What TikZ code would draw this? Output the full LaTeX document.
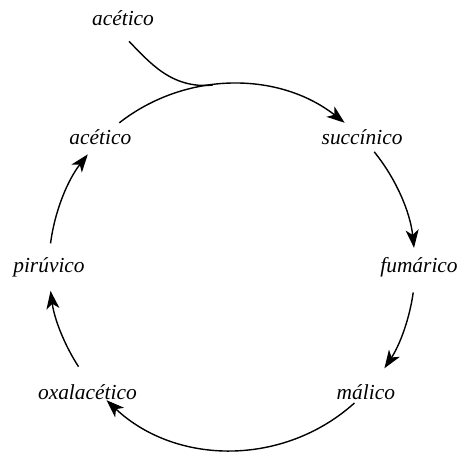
\documentclass[tikz,border=0pt]{standalone}
\usepackage{fontspec}
\setmainfont{Liberation Serif}
\usetikzlibrary{arrows.meta}

\begin{document}
\begin{tikzpicture}[
  x=1bp, y=1bp,
  >={Stealth[length=18bp, width=13bp, inset=5bp]},
  acid/.style={font=\fontsize{21.5}{26}\selectfont\itshape, inner sep=2bp},
  cycle/.style={->, line width=1.4bp}
]
\useasboundingbox (0,0) rectangle (464,452);

% ── Centre of the cycle ───────────────────────────────────────────────────
\coordinate (c) at (232,185);

% ── Acids ─────────────────────────────────────────────────────────────────
\node[acid, anchor=base] (acin) at (123,426) {acético};
\node[acid] (suc)  at ([shift={(45:184)}]c)    {succínico};
\node[acid] (fum)  at ([shift={(0:187)}]c)     {fumárico};
\node[acid] (mal)  at ([shift={(-43:183)}]c)   {málico};
\node[acid] (oxa)  at ([shift={(220.8:191)}]c) {oxalacético};
\node[acid] (pir)  at ([shift={(180:183)}]c)   {pirúvico};
\node[acid] (ace)  at ([shift={(135.4:185)}]c) {acético};

% ── Entry into the cycle ──────────────────────────────────────────────────
\coordinate (join) at ([shift={(96:183)}]c);
\draw[line width=1.4bp] ([xshift=6bp, yshift=-13bp]acin.south)
  .. controls +(-45:28) and +(186:42) .. (join);

% ── Arcs of the cycle ─────────────────────────────────────────────────────
\draw[cycle] ([shift={(128:183)}]c)   arc[start angle=128,   end angle=52,    radius=183];
\draw[cycle] ([shift={(39:183)}]c)    arc[start angle=39,    end angle=6,     radius=183];
\draw[cycle] ([shift={(-8:183)}]c)    arc[start angle=-8,    end angle=-33.6, radius=183];
\draw[cycle] ([shift={(-48:183)}]c)   arc[start angle=-48,   end angle=-133.3,radius=183];
\draw[cycle] ([shift={(213:183)}]c)   arc[start angle=213,   end angle=187.5, radius=183];
\draw[cycle] ([shift={(172.6:183)}]c) arc[start angle=172.6, end angle=142,   radius=183];

\end{tikzpicture}
\end{document}
